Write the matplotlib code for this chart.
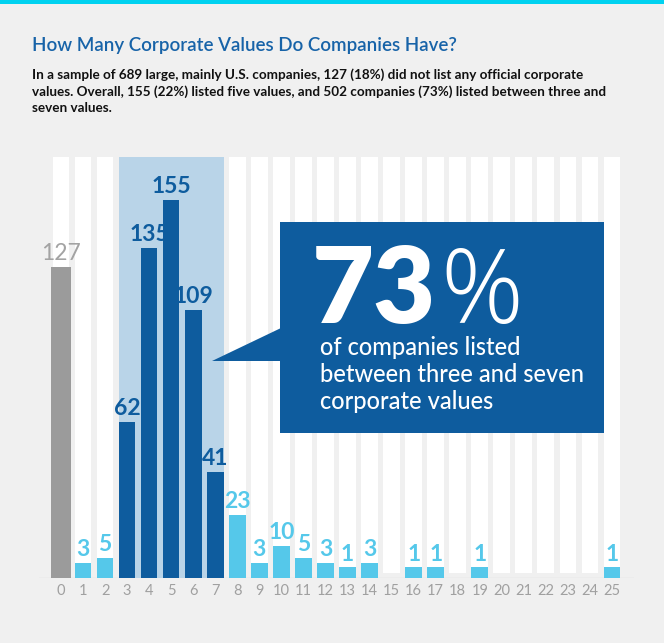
import matplotlib.pyplot as plt
from matplotlib.patches import Rectangle, Polygon

# Number of corporate values listed, and how many companies listed that many
num_values = list(range(26))
companies = [127, 3, 5, 62, 135, 155, 109, 41, 23, 3, 10, 5, 3, 1, 3,
             0, 1, 1, 0, 1, 0, 0, 0, 0, 0, 1]
no_values = [0]
three_to_seven = [3, 4, 5, 6, 7]

title = "How Many Corporate Values Do Companies Have?"
subtitle = ("In a sample of 689 large, mainly U.S. companies, 127 (18%) did not list any official corporate\n"
            "values. Overall, 155 (22%) listed five values, and 502 companies (73%) listed between three and\n"
            "seven values.")
callout_big = "73"
callout_text = "of companies listed\nbetween three and seven\ncorporate values"

GRAY = '#9b9b9b'
DARK = '#0e5c9e'
LIGHT = '#55c8ea'
BAND = '#b9d4e8'
BG = '#f0f0f0'

W, H = 664, 643
fig = plt.figure(figsize=(W / 100, H / 100), dpi=100)
fig.patch.set_facecolor(BG)


def fx(x):
    return x / W


def fy(y):
    return 1 - y / H


# top cyan stripe
fig.add_artist(Rectangle((0, fy(4)), 1, 4 / H, transform=fig.transFigure,
                         color='#00d2f0', lw=0))

fig.text(fx(32), fy(46), title, fontsize=13.5, color='#1763a8',
         family='Lato', weight='semibold', va='center')
fig.text(fx(32), fy(68), subtitle, fontsize=9.75, color='#111111',
         family='Lato', weight='bold', va='top', linespacing=1.42)

# chart area; bars start a little below the zero line
BASE = -3.4
TOP = 173
ax = fig.add_axes([fx(39), fy(578), (634 - 39) / W, (578 - 157) / H])
ax.set_facecolor(BG)
ax.set_xlim(-1, 26)
ax.set_ylim(BASE, TOP)
for s in ax.spines.values():
    s.set_visible(False)

# white background stripes
ax.bar(num_values, [TOP - BASE - 2] * len(num_values), bottom=BASE + 2,
       width=0.76, color='white', zorder=1)
# highlighted range 3-7
ax.axvspan(min(three_to_seven) - 0.37, max(three_to_seven) + 0.4,
           color=BAND, lw=0, zorder=2)
ax.axhline(BASE, color='#dcdcdc', lw=1, zorder=1)

for v, c in zip(num_values, companies):
    if c == 0:
        continue
    if v in no_values:
        color, width, weight, lcolor = GRAY, 0.91, 'normal', '#a3a3a3'
    elif v in three_to_seven:
        color, width, weight, lcolor = DARK, 0.75, 'bold', DARK
    else:
        color, width, weight, lcolor = LIGHT, 0.75, 'bold', LIGHT
    ax.bar(v, c - BASE, bottom=BASE, width=width, color=color, zorder=3)
    ax.annotate(str(c), (v, c), xytext=(0, 2), textcoords='offset points',
                ha='center', va='bottom', fontsize=16.5, color=lcolor,
                family='Lato', weight=weight, zorder=4)

ax.set_yticks([])
ax.set_xticks(num_values)
ax.set_xticklabels([str(v) for v in num_values], fontsize=10.5, color='#a0a0a0',
                   family='Lato', weight='normal')
ax.tick_params(axis='x', length=0, pad=4)

# callout box
fig.add_artist(Rectangle((fx(280), fy(433)), (604 - 280) / W, (433 - 222) / H,
                         transform=fig.transFigure, color=DARK, lw=0))
fig.add_artist(Polygon([(fx(281), fy(328)), (fx(212), fy(361)), (fx(281), fy(361))],
                       closed=True, transform=fig.transFigure, color=DARK, lw=0))
fig.text(fx(312), fy(323), callout_big, fontsize=77, color='white',
         family='Lato', weight='heavy', va='baseline')
fig.text(fx(440), fy(323), '%', fontsize=74, color='white',
         family='Open Sans', weight='light', va='baseline')
fig.text(fx(320), fy(336), callout_text, fontsize=17, color='white',
         family='Lato', weight='medium', va='top', linespacing=1.2)

fig.savefig('out.png', dpi=100, facecolor=BG)
